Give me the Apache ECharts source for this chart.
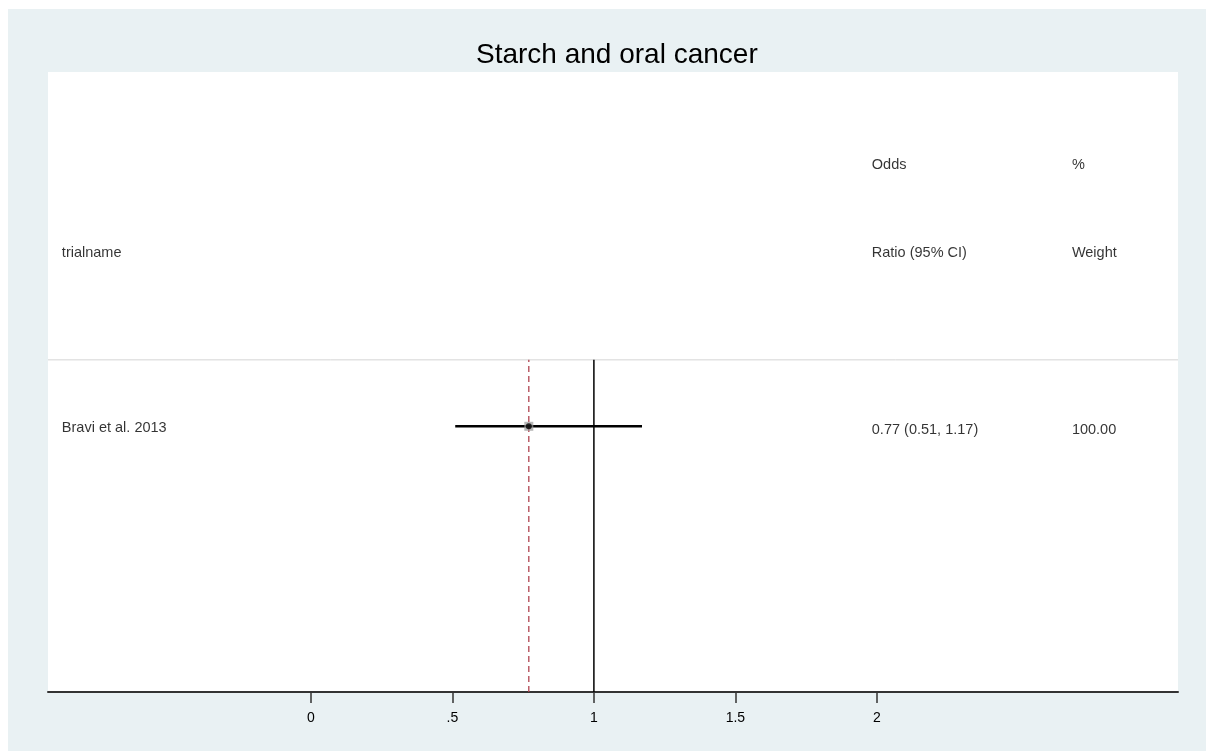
<!DOCTYPE html>
<html><head><meta charset="utf-8">
<script src="https://cdn.jsdelivr.net/npm/echarts@6/dist/echarts.min.js"></script>
<style>html,body{margin:0;padding:0;background:#fff}#c{width:1206px;height:751px}</style>
</head><body><div id="c"></div>
<script>
// ---- data ----
const titleText = 'Starch and oral cancer';
const studies = ['Bravi et al. 2013'];
const orValues = [0.77];
const ciLow = [0.51];
const ciHigh = [1.17];
const weights = ['100.00'];
const pooledEstimate = 0.77;
const nullValue = 1;
const tickValues = [0, 0.5, 1, 1.5, 2];
const headerRow1 = ['', 'Odds', '%'];
const headerRow2 = ['trialname', 'Ratio (95% CI)', 'Weight'];

// ---- layout (not data) ----
const X_MIN = -0.929, X_MAX = 3.064;
const COL_X = [-0.88, 1.982, 2.689];
const ROW_HDR1 = 6, ROW_HDR2 = 5, ROW_SEP = 3.75, ROW_STUDY0 = 3;
const TEXT_DY = -0.045, NAME_DY = -0.02;
const FONT = '"Liberation Sans", Arial, sans-serif';

const fmt = v => v.toFixed(2);
const textPoints = [];
headerRow1.forEach((t, i) => { if (t) textPoints.push({value: [COL_X[i], ROW_HDR1 + TEXT_DY], txt: t}); });
headerRow2.forEach((t, i) => textPoints.push({value: [COL_X[i], ROW_HDR2 + TEXT_DY], txt: t}));
studies.forEach((s, k) => {
  const y = ROW_STUDY0 - k;
  textPoints.push({value: [COL_X[0], y + NAME_DY], txt: s});
  textPoints.push({value: [COL_X[1], y + TEXT_DY], txt: fmt(orValues[k]) + ' (' + fmt(ciLow[k]) + ', ' + fmt(ciHigh[k]) + ')'});
  textPoints.push({value: [COL_X[2], y + TEXT_DY], txt: weights[k]});
});

const series = [];
// separator
series.push({type: 'line', data: [[X_MIN, ROW_SEP], [X_MAX, ROW_SEP]], symbol: 'none',
  lineStyle: {color: '#d4d4d4', width: 1}, silent: true, z: 1});
// pooled estimate dashed line
series.push({type: 'line', data: [[pooledEstimate, 0], [pooledEstimate, ROW_SEP]], symbol: 'none',
  lineStyle: {color: '#b0434f', width: 1.3, type: [6, 4]}, silent: true, z: 2});
// null line
series.push({type: 'line', data: [[nullValue, 0], [nullValue, ROW_SEP]], symbol: 'none',
  lineStyle: {color: '#000', width: 1.5}, silent: true, z: 3});
// CIs
studies.forEach((s, k) => {
  series.push({type: 'line', data: [[ciLow[k], ROW_STUDY0 - k], [ciHigh[k], ROW_STUDY0 - k]], symbol: 'none',
    lineStyle: {color: '#000', width: 2.6}, silent: true, z: 4});
});
// weight boxes and points
series.push({type: 'scatter', symbol: 'rect', symbolSize: 9, itemStyle: {color: '#9a9a9a', opacity: 0.7},
  data: orValues.map((v, k) => [v, ROW_STUDY0 - k]), z: 5, silent: true});
series.push({type: 'scatter', symbol: 'circle', symbolSize: 6, itemStyle: {color: '#000'},
  data: orValues.map((v, k) => [v, ROW_STUDY0 - k]), z: 6, silent: true});
// texts
series.push({type: 'scatter', symbolSize: 0, silent: true, z: 7,
  data: textPoints.map(p => ({value: p.value, label: {formatter: p.txt}})),
  label: {show: true, position: 'right', distance: 0, color: '#000', fontSize: 14.5, fontFamily: FONT}});

const chart = echarts.init(document.getElementById('c'));
chart.setOption({
  backgroundColor: '#e9f1f3',
  animation: false,
  graphic: [
    {type: 'rect', shape: {x: 0, y: 0, width: 1206, height: 9}, style: {fill: '#fff'}, silent: true},
    {type: 'rect', shape: {x: 0, y: 0, width: 8, height: 751}, style: {fill: '#fff'}, silent: true}
  ],
  title: {text: titleText, left: 471, top: 36,
    textStyle: {fontFamily: FONT, fontSize: 28, fontWeight: 'normal', color: '#000'}},
  grid: {left: 48, right: 28, top: 72, bottom: 59, show: true, backgroundColor: '#fff', borderWidth: 0},
  xAxis: {type: 'value', min: X_MIN, max: X_MAX,
    axisLine: {show: true, onZero: false, lineStyle: {color: '#333', width: 2}},
    axisTick: {show: true, customValues: tickValues, length: 11, lineStyle: {color: '#333', width: 1.5}},
    axisLabel: {show: true, customValues: tickValues, margin: 19, fontSize: 14, fontFamily: FONT, color: '#000',
      formatter: v => String(v).replace(/^0\./, '.')},
    splitLine: {show: false}},
  yAxis: {type: 'value', min: 0, max: 7, show: false, splitLine: {show: false}},
  series: series
});
</script></body></html>
